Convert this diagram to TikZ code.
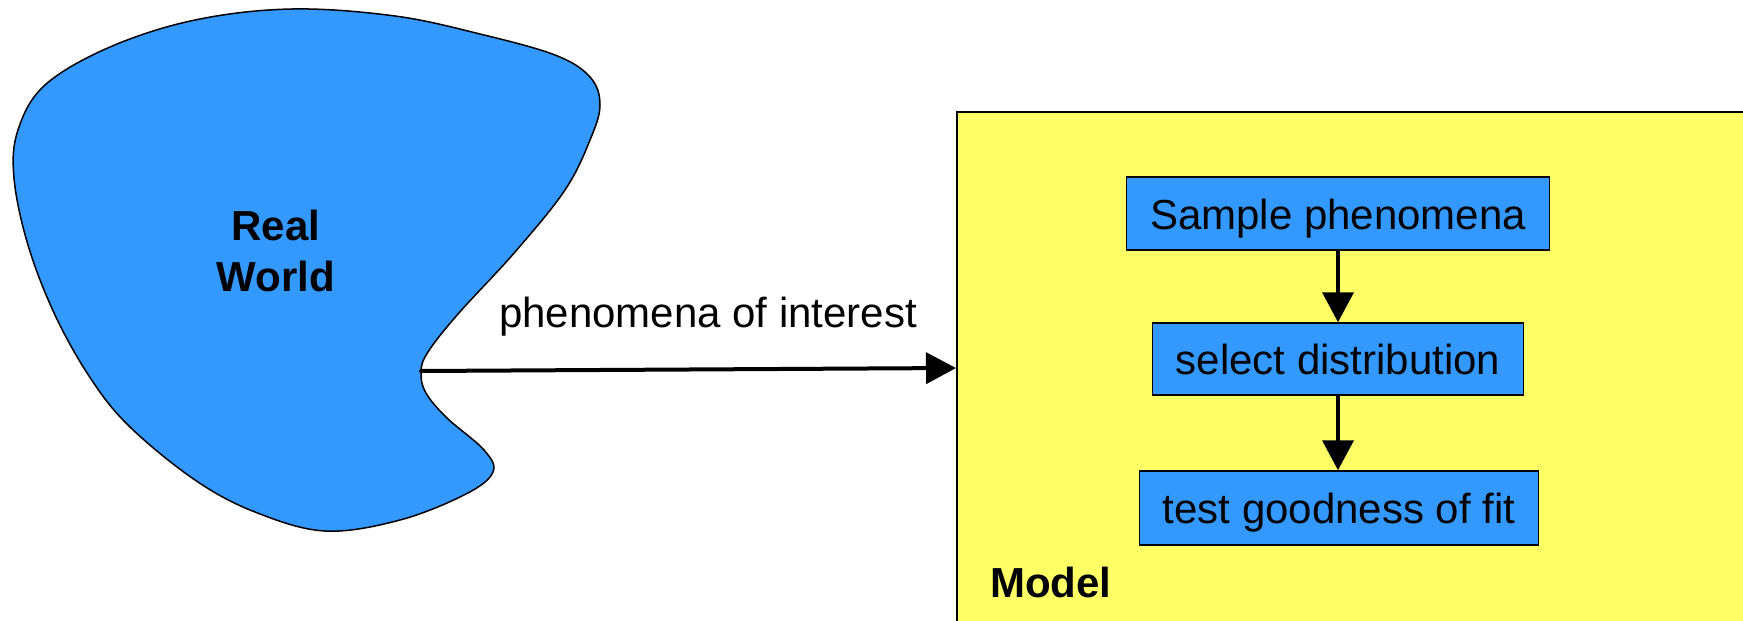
\documentclass[tikz,border=0pt]{standalone}
\usepackage{fontspec}
\setmainfont{Liberation Sans}
\usetikzlibrary{arrows.meta,calc}
\definecolor{blobblue}{HTML}{3399FF}
\definecolor{modelyellow}{HTML}{FFFF66}
\tikzset{
  bigtext/.style={font=\fontsize{42}{51}\selectfont},
  stepbox/.style={draw, line width=1.5pt, fill=blobblue, inner sep=0pt,
    text height=40pt, text depth=9pt, bigtext},
  flowarrow/.style={line width=4pt, -{Triangle[length=30pt,width=31pt]}},
}
\begin{document}
\begin{tikzpicture}[x=1pt,y=-1pt]
\clip (0,0) rectangle (1743,621);
\fill[white] (0,0) rectangle (1743,621);
% Real world blob
\draw[line width=1.5pt, fill=blobblue] plot[smooth cycle, tension=0.6] coordinates {
 (292,9) (395,16) (480,34) (555,55) (590,77) (600,105) (590,140) (565,190)
 (515,252) (458,314) (428,352) (421,372) (426,393) (447,418) (484,450)
 (493,472) (466,494) (400,520) (325,531) (255,512) (195,480) (130,427)
 (91,379) (55,315) (28,245) (14,178) (18,130) (45,85) (110,47) (195,20)};
\node[bigtext, font=\fontsize{42}{51}\selectfont\bfseries, align=center, inner sep=0pt] (real) at (276,251) {Real\\World};
\coordinate (indent) at (421,371);
% Model box
\node[draw, fill=modelyellow, line width=1.5pt, minimum width=900pt, minimum height=600pt,
      anchor=north west, inner sep=0pt] (model) at (956,111) {};
\coordinate (modelin) at ($(model.north west)+(0,257)$);
\node[bigtext, font=\fontsize{42}{51}\selectfont\bfseries, anchor=base west, inner sep=0pt] (modellbl) at (990,597) {Model};
% main arrow
\draw[flowarrow, line cap=round] (indent) -- (modelin);
\node[bigtext, anchor=base, inner sep=0pt] (phen) at (708,327) {phenomena of interest};
% step boxes
\node[stepbox, minimum width=423pt, minimum height=73pt] (sample) at (1338,213.5) {Sample phenomena};
\node[stepbox, minimum width=371pt, minimum height=72pt] (select) at (1338,359) {select distribution};
\node[stepbox, minimum width=399pt, minimum height=74pt] (test) at (1339,508) {test goodness of fit};
\draw[flowarrow] (sample.south) -- (select.north);
\draw[flowarrow] (select.south) -- (test.north -| select.south);
\end{tikzpicture}
\end{document}
